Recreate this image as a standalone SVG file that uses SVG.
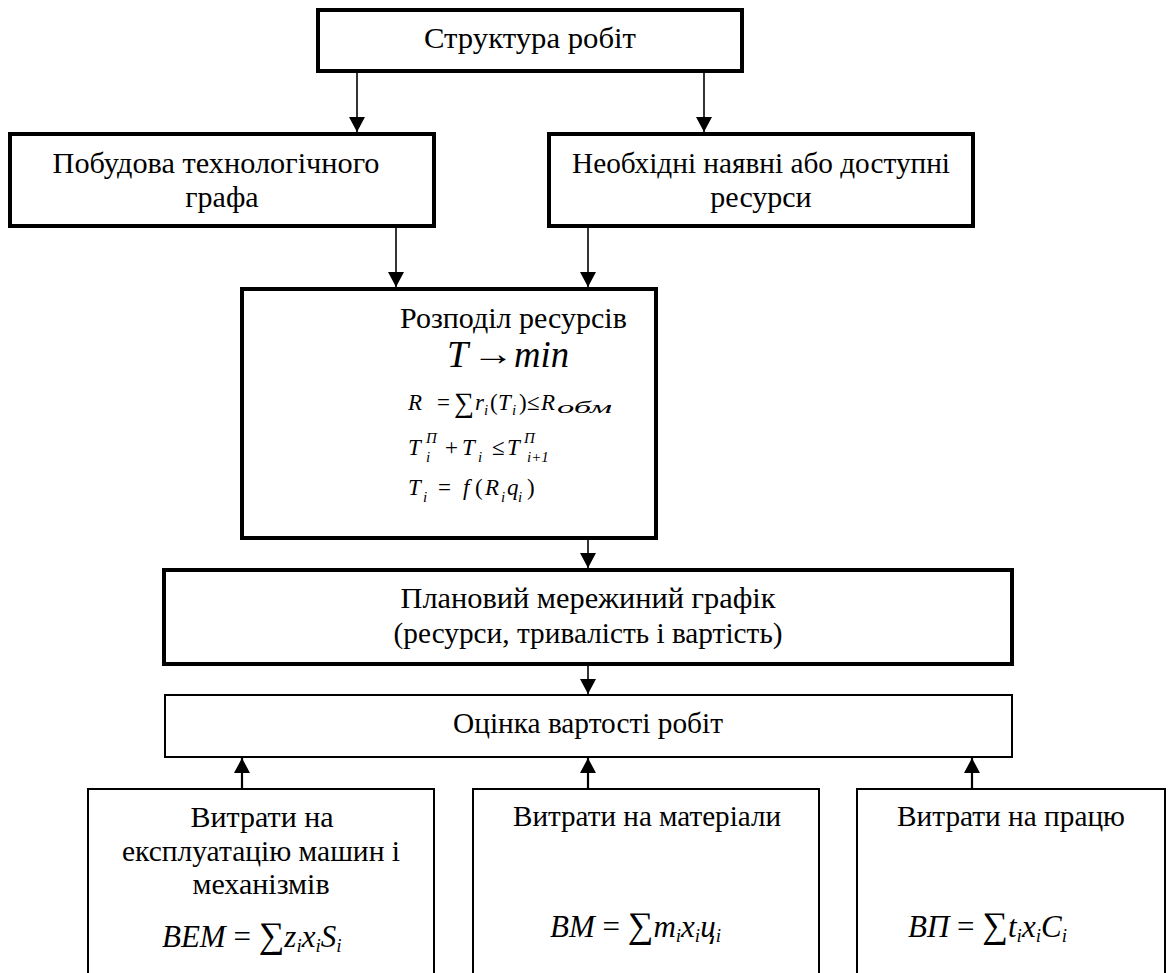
<svg xmlns="http://www.w3.org/2000/svg" width="1173" height="973" viewBox="0 0 1173 973">
<defs>
<marker id="ah" markerUnits="userSpaceOnUse" markerWidth="15" markerHeight="16" refX="15" refY="8" orient="auto" viewBox="0 0 15 16">
<path d="M0,0 L15,8 L0,16 z" fill="#000"/>
</marker>
</defs>
<style>
.thick{fill:#fff;stroke:#000;stroke-width:4}
.thin{fill:#fff;stroke:#000;stroke-width:2}
text{font-family:'Liberation Serif',Tinos,'Times New Roman','DejaVu Serif','Noto Serif',serif;fill:#000}
.lbl{font-size:30px;text-anchor:middle}
.m{font-size:23px;font-style:italic}
.mn{font-style:normal}
.s{font-size:15px}
.f{font-size:31px;font-style:italic}
.fs{font-size:19px}
.c{stroke:#000;stroke-width:1.6;fill:none;marker-end:url(#ah)}
.cu{stroke:#000;stroke-width:2.2;fill:none;marker-end:url(#ah)}
</style>
<rect width="1173" height="973" fill="#fff"/>

<g id="connectors">
<line class="c" x1="357" y1="71" x2="357" y2="132"/>
<line class="c" x1="704" y1="71" x2="704" y2="132"/>
<line class="c" x1="396" y1="226" x2="396" y2="287"/>
<line class="c" x1="588" y1="226" x2="588" y2="287"/>
<line class="c" x1="588" y1="538" x2="588" y2="568"/>
<line class="c" x1="588" y1="664" x2="588" y2="694"/>
<line class="cu" x1="242" y1="789" x2="242" y2="758"/>
<line class="cu" x1="588" y1="789" x2="588" y2="758"/>
<line class="cu" x1="972" y1="789" x2="972" y2="758"/>
</g>

<g id="structure">
<rect class="thick" x="318" y="10" width="424" height="61"/>
<text class="lbl" x="530" y="48" textLength="212" lengthAdjust="spacingAndGlyphs">Структура робіт</text>
</g>

<g id="graph">
<rect class="thick" x="10" y="134" width="424" height="92"/>
<text class="lbl" x="216" y="173" textLength="327" lengthAdjust="spacingAndGlyphs">Побудова технологічного</text>
<text class="lbl" x="222" y="207">графа</text>
</g>

<g id="resources">
<rect class="thick" x="549" y="134" width="424" height="92"/>
<text class="lbl" x="761" y="173" textLength="378" lengthAdjust="spacingAndGlyphs">Необхідні наявні або доступні</text>
<text class="lbl" x="761" y="207">ресурси</text>
</g>

<g id="allocation">
<rect class="thick" x="242" y="289" width="414" height="249"/>
<text class="lbl" x="400" y="328" style="text-anchor:start">Розподіл ресурсів</text>
<text class="m" x="447" y="367" style="font-size:38px">T</text>
<text class="m mn" x="472" y="365" style="font-size:34px" textLength="42" lengthAdjust="spacingAndGlyphs">→</text>
<text class="m" x="514" y="367" style="font-size:38px" textLength="55" lengthAdjust="spacingAndGlyphs">min</text>
<g>
<text class="m" x="408" y="410">R</text>
<text class="m mn" x="437" y="410">=</text>
<text class="m mn" x="454" y="412" style="font-size:28px">∑</text>
<text class="m" x="475" y="410">r</text>
<text class="m s" x="484" y="415">i</text>
<text class="m mn" x="490" y="410">(</text>
<text class="m" x="498" y="410">T</text>
<text class="m s" x="512" y="415">i</text>
<text class="m mn" x="519" y="410">)</text>
<text class="m mn" x="527" y="410">≤</text>
<text class="m" x="541" y="410">R</text>
<text class="m" x="557" y="413" style="font-size:17px" textLength="55" lengthAdjust="spacingAndGlyphs">обм</text>
</g>
<g>
<text class="m" x="408" y="455">T</text>
<text class="m s" x="426" y="443">П</text>
<text class="m s" x="426" y="462">i</text>
<text class="m mn" x="445" y="455">+</text>
<text class="m" x="462" y="455">T</text>
<text class="m s" x="478" y="462">i</text>
<text class="m mn" x="492" y="455">≤</text>
<text class="m" x="507" y="455">T</text>
<text class="m s" x="524" y="443">П</text>
<text class="m s" x="527" y="462">i+1</text>
</g>
<g>
<text class="m" x="408" y="495">T</text>
<text class="m s" x="423" y="502">i</text>
<text class="m mn" x="438" y="495">=</text>
<text class="m" x="463" y="495">f</text>
<text class="m mn" x="475" y="495">(</text>
<text class="m" x="485" y="495">R</text>
<text class="m s" x="501" y="502">i</text>
<text class="m" x="507" y="495">q</text>
<text class="m s" x="518" y="502">i</text>
<text class="m mn" x="527" y="495">)</text>
</g>
</g>

<g id="plan">
<rect class="thick" x="164" y="570" width="848" height="94"/>
<text class="lbl" x="588" y="608" textLength="375" lengthAdjust="spacingAndGlyphs">Плановий мережиний графік</text>
<text class="lbl" x="588" y="643" textLength="389" lengthAdjust="spacingAndGlyphs">(ресурси, тривалість і вартість)</text>
</g>

<g id="cost">
<rect class="thin" x="165" y="695" width="847" height="62"/>
<text class="lbl" x="588" y="733" textLength="270" lengthAdjust="spacingAndGlyphs">Оцінка вартості робіт</text>
</g>

<g id="machines">
<rect class="thin" x="88" y="789" width="346" height="220"/>
<text class="lbl" x="262" y="827">Витрати на</text>
<text class="lbl" x="261" y="861" textLength="278" lengthAdjust="spacingAndGlyphs">експлуатацію машин і</text>
<text class="lbl" x="261" y="894">механізмів</text>
<text class="f" x="162" y="947">BEM <tspan class="mn">=</tspan> <tspan class="mn" style="font-size:36px">∑</tspan><tspan>z</tspan><tspan class="fs" dy="5">i</tspan><tspan dy="-5">x</tspan><tspan class="fs" dy="5">i</tspan><tspan dy="-5">S</tspan><tspan class="fs" dy="5">i</tspan></text>
</g>

<g id="materials">
<rect class="thin" x="473" y="789" width="346" height="220"/>
<text class="lbl" x="647" y="826" textLength="268" lengthAdjust="spacingAndGlyphs">Витрати на матеріали</text>
<text class="f" x="550" y="937">BM <tspan class="mn">=</tspan> <tspan class="mn" style="font-size:36px">∑</tspan><tspan>m</tspan><tspan class="fs" dy="5">i</tspan><tspan dy="-5">x</tspan><tspan class="fs" dy="5">i</tspan><tspan dy="-5">ц</tspan><tspan class="fs" dy="5">i</tspan></text>
</g>

<g id="labour">
<rect class="thin" x="857" y="789" width="308" height="220"/>
<text class="lbl" x="1011" y="826" textLength="228" lengthAdjust="spacingAndGlyphs">Витрати на працю</text>
<text class="f" x="908" y="937">BП <tspan class="mn">=</tspan> <tspan class="mn" style="font-size:36px">∑</tspan><tspan>t</tspan><tspan class="fs" dy="5">i</tspan><tspan dy="-5">x</tspan><tspan class="fs" dy="5">i</tspan><tspan dy="-5">C</tspan><tspan class="fs" dy="5">i</tspan></text>
</g>
</svg>
